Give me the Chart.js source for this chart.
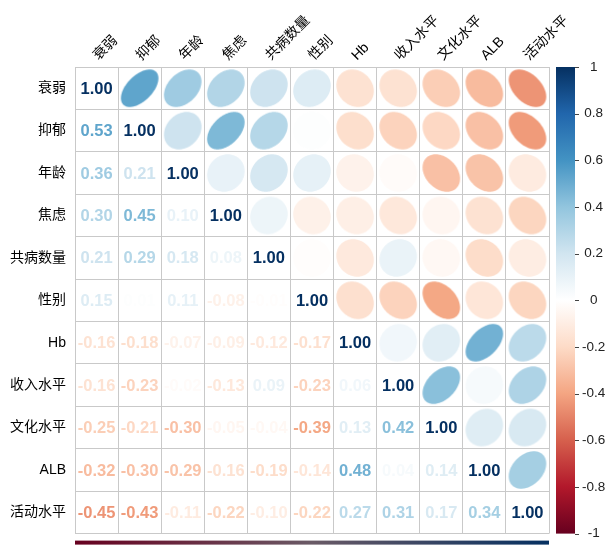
<!DOCTYPE html>
<html>
<head>
<meta charset="utf-8">
<script src="https://cdn.jsdelivr.net/npm/chart.js@4/dist/chart.umd.min.js"></script>
<style>
  html, body { margin: 0; padding: 0; background: #fff; }
  #wrap { width: 606px; height: 551px; }
</style>
</head>
<body>
<div id="wrap"><canvas id="corr"></canvas></div>
<script>
// variables (same order on both axes)
const variables = ["衰弱", "抑郁", "年龄", "焦虑", "共病数量", "性别", "Hb", "收入水平", "文化水平", "ALB", "活动水平"];

// lower triangle of the correlation matrix, one row per variable
const frailty = [];
const depression = [0.53];
const age = [0.36, 0.21];
const anxiety = [0.30, 0.45, 0.10];
const comorbidity = [0.21, 0.29, 0.18, 0.08];
const sex = [0.15, 0.01, 0.11, -0.08, -0.01];
const hb = [-0.16, -0.18, -0.07, -0.09, -0.12, -0.17];
const income = [-0.16, -0.23, -0.02, -0.13, 0.09, -0.23, 0.06];
const education = [-0.25, -0.21, -0.30, -0.05, -0.04, -0.39, 0.13, 0.42];
const alb = [-0.32, -0.30, -0.29, -0.16, -0.19, -0.14, 0.48, 0.04, 0.14];
const activity = [-0.45, -0.43, -0.11, -0.22, -0.10, -0.22, 0.27, 0.31, 0.17, 0.34];
const lowerRows = [frailty, depression, age, anxiety, comorbidity, sex, hb, income, education, alb, activity];

// colour legend ticks
const legendTicks = [1, 0.8, 0.6, 0.4, 0.2, 0, -0.2, -0.4, -0.6, -0.8, -1];

// RdBu palette from -1 to 1
const palette = ["#67001F", "#B2182B", "#D6604D", "#F4A582", "#FDDBC7", "#FFFFFF",
                 "#D1E5F0", "#92C5DE", "#4393C3", "#2166AC", "#053061"];

function hexRgb(h) {
    return [parseInt(h.slice(1, 3), 16), parseInt(h.slice(3, 5), 16), parseInt(h.slice(5, 7), 16)];
}
function colorAt(v) {
    const p = (Math.max(-1, Math.min(1, v)) + 1) / 2 * (palette.length - 1);
    const i = Math.min(Math.floor(p), palette.length - 2);
    const f = p - i;
    const a = hexRgb(palette[i]), b = hexRgb(palette[i + 1]);
    const c = a.map((x, k) => Math.round(x + (b[k] - x) * f));
    return `rgb(${c[0]},${c[1]},${c[2]})`;
}

// full symmetric matrix
const n = variables.length;
const corr = variables.map((_, i) => variables.map((_, j) => {
    if (i === j) return 1;
    return i > j ? lowerRows[i][j] : lowerRows[j][i];
}));

const upperPoints = [];
const textPoints = [];
for (let i = 0; i < n; i++) {
    for (let j = 0; j < n; j++) {
        const p = { x: variables[j], y: variables[i], v: corr[i][j] };
        if (j > i) upperPoints.push(p); else textPoints.push(p);
    }
}

// ellipse glyph as in corrplot, used as a point style
const glyphCache = {};
function ellipseGlyph(rho, cell) {
    const key = rho + "_" + cell.toFixed(2);
    if (glyphCache[key]) return glyphCache[key];
    const size = Math.ceil(cell);
    const c = document.createElement("canvas");
    c.width = c.height = size;
    const g = c.getContext("2d");
    const s = cell * 0.435, d = Math.acos(rho);
    g.beginPath();
    for (let k = 0; k <= 120; k++) {
        const t = k / 120 * Math.PI * 2;
        const x = size / 2 + s * Math.cos(t + d / 2);
        const y = size / 2 - s * Math.cos(t - d / 2);
        k ? g.lineTo(x, y) : g.moveTo(x, y);
    }
    g.closePath();
    g.fillStyle = colorAt(rho);
    g.fill();
    glyphCache[key] = c;
    return c;
}

const labelFont = "'Liberation Sans', 'Noto Sans CJK SC', sans-serif";

const cellText = {
    id: "cellText",
    afterDatasetsDraw(chart) {
        const meta = chart.getDatasetMeta(1);
        const ctx = chart.ctx;
        ctx.save();
        ctx.font = "bold 16.5px 'Liberation Sans', Arial, sans-serif";
        ctx.textAlign = "center";
        ctx.textBaseline = "middle";
        meta.data.forEach((pt, k) => {
            const v = textPoints[k].v;
            ctx.fillStyle = colorAt(v);
            ctx.fillText(v.toFixed(2), pt.x, pt.y + 1);
        });
        ctx.restore();
    }
};

const colorLegend = {
    id: "colorLegend",
    afterDraw(chart) {
        const cb = chart.scales.cb;
        const ctx = chart.ctx;
        const top = cb.getPixelForValue(1), bottom = cb.getPixelForValue(-1);
        const x0 = cb.left + 7, w = 19;
        const grad = ctx.createLinearGradient(0, bottom, 0, top);
        palette.forEach((c, k) => grad.addColorStop(k / (palette.length - 1), c));
        ctx.save();
        ctx.fillStyle = grad;
        ctx.fillRect(x0, top, w, bottom - top);
        ctx.strokeStyle = "#444";
        ctx.lineWidth = 1;
        cb.ticks.forEach(t => {
            const y = Math.round(cb.getPixelForValue(t.value)) + 0.5;
            ctx.beginPath();
            ctx.moveTo(x0 + w, y);
            ctx.lineTo(x0 + w + 4, y);
            ctx.stroke();
        });
        // cut-off horizontal legend strip at the bottom
        const xs = chart.scales.x;
        const hg = ctx.createLinearGradient(xs.left, 0, xs.right, 0);
        hg.addColorStop(0, "#67001F");
        hg.addColorStop(0.5, "#6a5a66");
        hg.addColorStop(1, "#053061");
        ctx.fillStyle = hg;
        ctx.fillRect(xs.left, chart.chartArea.bottom + 7, xs.right - xs.left, 4);
        ctx.restore();
    }
};

new Chart(document.getElementById("corr"), {
    type: "scatter",
    data: {
        datasets: [
            {
                data: upperPoints,
                pointRadius: 5,
                pointStyle: c => {
                    const a = c.chart.chartArea;
                    if (!a || !c.raw) return "circle";
                    const cell = (a.right - a.left) / n;
                    return ellipseGlyph(c.raw.v, cell);
                }
            },
            {
                data: textPoints,
                pointRadius: 0
            }
        ]
    },
    options: {
        responsive: true,
        maintainAspectRatio: false,
        animation: false,
        events: [],
        layout: { padding: { top: 0, left: 0, right: 0, bottom: 10 } },
        plugins: { legend: { display: false }, tooltip: { enabled: false } },
        scales: {
            x: {
                type: "category",
                labels: variables,
                position: "top",
                offset: true,
                grid: { offset: true, color: "#c9c9c9", drawTicks: false },
                border: { color: "#c9c9c9" },
                ticks: {
                    autoSkip: false, minRotation: 45, maxRotation: 45, padding: 3, labelOffset: 11,
                    color: "#000", font: { family: labelFont, size: 14 }
                },
                afterFit: s => { s.height = 67; }
            },
            y: {
                type: "category",
                labels: variables,
                offset: true,
                grid: { offset: true, color: "#c9c9c9", drawTicks: false },
                border: { color: "#c9c9c9" },
                ticks: {
                    autoSkip: false, padding: 9,
                    color: "#000", font: { family: labelFont, size: 14 }
                },
                afterFit: s => { s.width = 75; }
            },
            cb: {
                type: "linear",
                position: "right",
                min: -1, max: 1,
                grid: { display: false, drawTicks: false },
                border: { display: false },
                afterBuildTicks: s => { s.ticks = legendTicks.map(v => ({ value: v })); },
                ticks: {
                    padding: 33, crossAlign: "center",
                    color: "#222", font: { family: labelFont, size: 13.5 },
                    callback: v => String(Number(v.toFixed(1)))
                },
                afterFit: s => { s.width = 57; s.paddingTop = 0; s.paddingBottom = 0; }
            }
        }
    },
    plugins: [cellText, colorLegend]
});
</script>
</body>
</html>
